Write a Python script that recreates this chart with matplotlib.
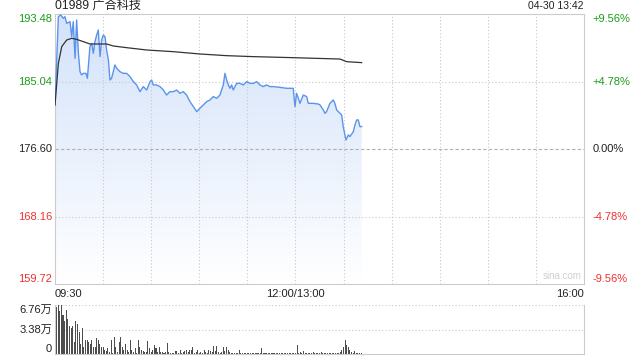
import numpy as np
import matplotlib
matplotlib.use("Agg")
import matplotlib.pyplot as plt
from matplotlib.colors import LinearSegmentedColormap

plt.rcParams['font.family'] = ['Liberation Sans', 'Noto Sans CJK SC', 'DejaVu Sans']

# price line (minute index since 09:30, price)
price_min = [0.0, 2.1, 3.5, 5.2, 6.2, 7.3, 9.4, 10.4, 11.4, 12.5, 13.5, 14.6, 15.6, 16.6, 17.7,
             19.3, 20.2, 21.8, 22.9, 23.9, 24.9, 26.0, 27.0, 28.1, 29.1, 30.1, 31.2, 32.2, 33.3,
             34.3, 35.3, 37.4, 38.5, 40.5, 42.6, 44.7, 46.8, 48.9, 50.9, 53.0, 55.1, 57.2, 59.3,
             60.3, 61.3, 63.4, 65.5, 67.6, 69.6, 71.7, 73.8, 75.9, 77.9, 80.0, 82.1, 84.2, 86.3,
             88.4, 90.4, 92.5, 94.6, 96.7, 98.7, 100.8, 102.9, 103.9, 105.0, 106.0, 107.1, 108.1,
             109.2, 110.2, 111.2, 113.3, 115.4, 117.5, 119.5, 121.6, 123.7, 125.8, 127.9, 129.9,
             132.0, 134.1, 136.2, 140.3, 144.5, 148.6, 149.7, 150.7, 151.8, 152.8, 154.9, 157.0,
             158.0, 161.1, 164.2, 165.3, 167.4, 168.4, 169.4, 171.5, 173.6, 174.6, 175.7, 177.8,
             178.8, 179.8, 181.5, 183.0, 184.0, 186.1, 187.1, 188.2, 189.2, 190.2, 191.3]
price = [182.11, 193.15, 193.36, 192.94, 193.15, 192.31, 192.52, 190.65, 192.52, 187.94, 192.73,
         188.56, 186.27, 185.86, 186.06, 186.06, 185.44, 189.40, 189.81, 188.56, 190.02, 190.85,
         191.48, 188.15, 190.23, 190.85, 190.65, 188.98, 187.73, 185.23, 185.44, 187.11, 186.69,
         186.27, 186.06, 186.06, 185.65, 185.02, 184.61, 183.77, 184.40, 183.98, 185.02, 185.23,
         184.61, 184.61, 184.40, 183.98, 183.35, 183.77, 183.77, 183.98, 183.56, 183.77, 183.35,
         182.52, 181.90, 181.27, 181.69, 182.11, 182.52, 182.73, 183.15, 182.94, 183.35, 183.98,
         184.61, 186.06, 185.23, 184.61, 184.19, 184.61, 183.98, 184.81, 184.81, 184.61, 185.02,
         184.81, 184.81, 185.02, 184.61, 184.40, 184.61, 184.40, 184.40, 184.31, 184.19, 184.19,
         181.90, 183.56, 182.94, 182.31, 183.35, 183.15, 182.31, 182.31, 182.23, 182.11, 181.48,
         181.06, 181.27, 182.31, 182.73, 182.31, 181.48, 181.06, 180.86, 179.40, 177.73, 178.36,
         178.15, 178.77, 179.61, 180.23, 180.23, 179.40, 179.40]

# average price line
avg_min = [0.0, 2.1, 4.2, 7.3, 10.4, 13.5, 17.7, 21.8, 32.2, 36.4, 44.7, 57.2, 73.8, 90.4,
           107.1, 123.7, 148.6, 177.8, 181.9, 191.3]
avg_price = [182.11, 187.31, 189.40, 190.23, 190.44, 190.31, 190.02, 189.73, 189.73, 189.48,
             189.27, 188.98, 188.77, 188.48, 188.27, 188.15, 188.02, 187.85, 187.52, 187.40]

# volume per minute, in 万
volume = [3.1, 6.5, 6.76, 5.9, 6.76, 5.4, 4.5, 6.1, 4.8, 3.9, 3.6, 3.9, 1.6, 4.5, 4.1, 3.0,
          1.4, 3.6, 1.0, 2.0, 1.9, 1.6, 1.4, 1.9, 1.0, 1.0, 2.2, 1.9, 1.4, 1.0, 1.0, 0.6, 0.4,
          0.8, 0.3, 1.9, 0.2, 2.4, 1.0, 0.3, 1.6, 2.4, 1.0, 0.6, 1.4, 0.5, 0.3, 1.9, 0.5, 0.3,
          0.8, 0.2, 1.9, 1.0, 0.6, 0.4, 0.3, 0.3, 1.8, 0.8, 0.3, 0.5, 1.3, 0.8, 0.3, 1.0, 0.3,
          0.3, 0.2, 0.3, 1.5, 0.3, 0.2, 0.2, 0.1, 0.4, 0.4, 0.2, 0.5, 0.2, 0.3, 0.4, 0.6, 0.3,
          0.5, 0.6, 0.9, 0.2, 0.3, 0.5, 0.2, 0.3, 0.2, 0.6, 0.3, 0.2, 0.5, 0.4, 0.3, 1.1, 0.4,
          1.1, 0.3, 0.2, 0.3, 0.9, 0.4, 0.9, 0.5, 0.3, 0.2, 0.1, 0.2, 0.1, 0.2, 0.6, 0.2, 0.1,
          0.2, 0.1, 0.2, 0.1, 0.2, 0.1, 0.2, 0.1, 0.2, 0.2, 0.1, 0.8, 0.2, 0.1, 0.2, 0.1, 0.2,
          0.1, 0.1, 0.2, 0.1, 0.2, 0.1, 0.1, 0.2, 0.1, 0.2, 0.1, 0.2, 0.1, 0.2, 0.1, 0.2, 1.3,
          0.2, 0.3, 0.1, 0.4, 0.2, 0.1, 0.2, 0.1, 0.1, 0.3, 0.1, 0.2, 0.1, 0.1, 0.3, 0.1, 0.2,
          0.1, 0.1, 0.2, 0.1, 0.1, 0.2, 0.1, 0.1, 0.1, 0.3, 0.6, 0.9, 2.0, 1.2, 1.0, 0.5, 0.3,
          0.2, 0.4, 0.2, 0.1, 0.2, 0.1]

prev_close = 176.60
price_ticks = [159.72, 168.16, 176.60, 185.04, 193.48]
pct_labels = ['-9.56%', '-4.78%', '0.00%', '+4.78%', '+9.56%']
vol_ticks = [0, 3.38, 6.76]
vol_labels = ['0', '3.38万', '6.76万']
x_ticks = [0, 150, 330]
x_labels = ['09:30', '12:00/13:00', '16:00']

green = '#1a9c1a'
red = '#f03030'
border = '#cccccc'
fs = 8

fig = plt.figure(figsize=(6.4, 3.6), dpi=100)
ax = fig.add_axes([55 / 640, 1 - 284 / 360, 529 / 640, 270 / 360])
axv = fig.add_axes([55 / 640, 1 - 354 / 360, 529 / 640, 49 / 360])

# gradient fill under the price line
poly = ax.fill_between(price_min, price, price_ticks[0], color='none', lw=0)
cmap = LinearSegmentedColormap.from_list('fill', ['#ffffff', '#d3e2fa'])
grad = np.linspace(0, 1, 256).reshape(-1, 1)
im = ax.imshow(grad, extent=[0, 330, price_ticks[0], price_ticks[-1]], origin='lower',
               aspect='auto', cmap=cmap, zorder=1)
im.set_clip_path(poly.get_paths()[0], transform=ax.transData)

ax.plot(price_min, price, color='#5b94ec', lw=1, zorder=4)
ax.plot(avg_min, avg_price, color='#333333', lw=0.9, zorder=4)

ax.set_xlim(0, 330)
ax.set_ylim(price_ticks[0], price_ticks[-1])

# grid, drawn over the fill
for m in range(30, 330, 30):
    ax.axvline(m, color='#c8c8c8', lw=0.8, ls=(0, (1, 2)), zorder=2)
for p in (168.16, 185.04):
    ax.axhline(p, color='#c8c8c8', lw=0.8, ls=(0, (1, 2)), zorder=2)
ax.axhline(prev_close, color='#b0b0b0', lw=0.8, ls=(0, (3, 2)), zorder=2)

for s in ax.spines.values():
    s.set_color(border)
    s.set_linewidth(0.8)

ax.set_xticks([])
ax.set_yticks(price_ticks)
ax.set_yticklabels([f'{v:.2f}' for v in price_ticks], fontsize=fs)
ax.tick_params(axis='y', length=0, pad=2)
colors = [red, red, '#222222', green, green]
vas = ['bottom', 'center', 'center', 'center', 'top']
for lab, c, va in zip(ax.get_yticklabels(), colors, vas):
    lab.set_color(c)
    lab.set_va(va)

axr = ax.twinx()
axr.set_ylim(ax.get_ylim())
axr.set_yticks(price_ticks)
axr.set_yticklabels(pct_labels, fontsize=fs)
axr.tick_params(axis='y', length=0, pad=6)
for lab, c, va in zip(axr.get_yticklabels(), colors, vas):
    lab.set_color(c)
    lab.set_va(va)
for s in axr.spines.values():
    s.set_visible(False)

# x labels under the main chart
for m, t, ha in zip(x_ticks, x_labels, ['left', 'center', 'right']):
    ax.text(m, -0.02, t, transform=ax.get_xaxis_transform(), ha=ha, va='top',
            fontsize=fs, color='#222222')

ax.text(0, 1.01, '01989 广合科技', transform=ax.transAxes, ha='left', va='bottom',
        fontsize=8.7, color='#222222')
ax.text(1, 1.01, '04-30 13:42', transform=ax.transAxes, ha='right', va='bottom',
        fontsize=7.5, color='#222222')
ax.text(0.995, 0.012, 'sina.com', transform=ax.transAxes, ha='right', va='bottom',
        fontsize=7, color='#d0d0d0')

# volume
axv.bar(np.arange(len(volume)), volume, width=0.65, color='#4d4d4d', zorder=2)
axv.set_xlim(0, 330)
axv.set_ylim(0, 6.76)
axv.set_xticks([])
axv.set_yticks(vol_ticks)
axv.set_yticklabels(vol_labels, fontsize=fs)
axv.tick_params(axis='y', length=0, pad=2)
for lab, va in zip(axv.get_yticklabels(), ['bottom', 'center', 'top']):
    lab.set_va(va)
    lab.set_color('#222222')
axv.axhline(3.38, color='#c8c8c8', lw=0.8, ls=(0, (1, 2)), zorder=0)
axv.axhline(6.76, color='#c8c8c8', lw=0.8, ls=(0, (1, 2)), zorder=0)
axv.spines['top'].set_visible(False)
for k in ('left', 'right', 'bottom'):
    axv.spines[k].set_color(border)
    axv.spines[k].set_linewidth(0.8)

fig.savefig('out.png', dpi=100, facecolor='white')
